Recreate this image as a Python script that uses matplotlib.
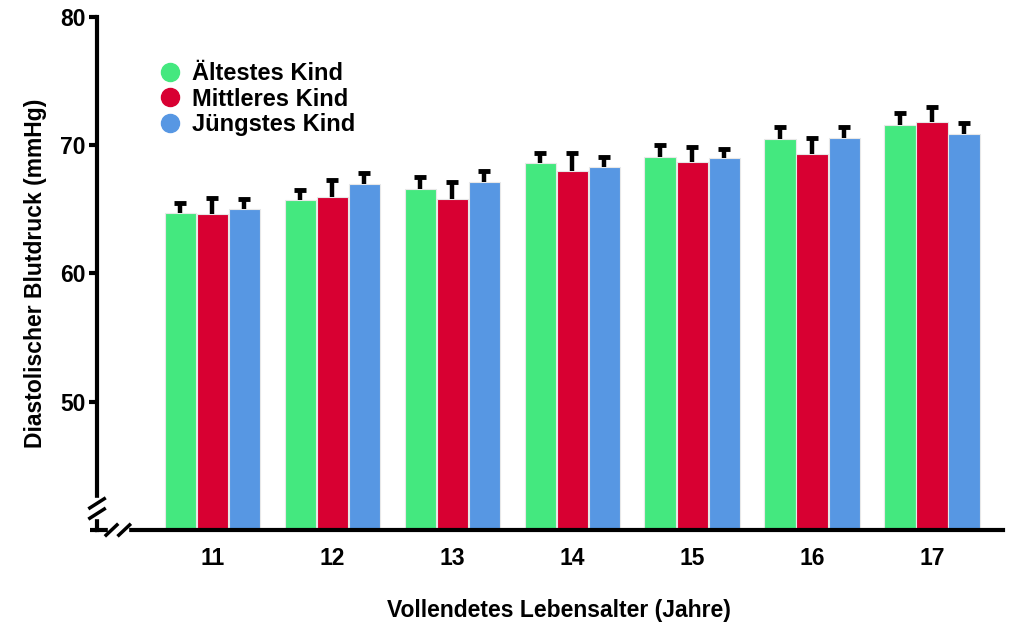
import numpy as np
import matplotlib
matplotlib.use('Agg')
import matplotlib.pyplot as plt
from matplotlib.lines import Line2D

plt.rcParams['font.family'] = ['Liberation Sans', 'DejaVu Sans']
plt.rcParams['font.weight'] = 'bold'

# Data
ages = [11, 12, 13, 14, 15, 16, 17]
series = ['Ältestes Kind', 'Mittleres Kind', 'Jüngstes Kind']
aeltestes = [64.7, 65.7, 66.6, 68.6, 69.1, 70.5, 71.6]
aeltestes_err = [0.8, 0.8, 0.9, 0.8, 0.9, 0.9, 0.9]
mittleres = [64.6, 66.0, 65.8, 68.0, 68.7, 69.3, 71.8]
mittleres_err = [1.3, 1.3, 1.3, 1.4, 1.2, 1.3, 1.2]
juengstes = [65.0, 67.0, 67.1, 68.3, 69.0, 70.6, 70.9]
juengstes_err = [0.8, 0.8, 0.9, 0.8, 0.7, 0.8, 0.8]

colors = ['#44E87F', '#D80032', '#5797E3']
values = [aeltestes, mittleres, juengstes]
errors = [aeltestes_err, mittleres_err, juengstes_err]

fig = plt.figure(figsize=(10.14, 6.24), dpi=100)
ax = fig.add_axes([0.0957, 0.1506, 0.8933, 0.8222])

x = np.array(ages, dtype=float)
w = 0.26
offsets = [-0.267, 0.0, 0.267]
for vals, errs, col, off, name in zip(values, errors, colors, offsets, series):
    vals = np.array(vals)
    tops = vals + np.array(errs)
    ax.bar(x + off, vals, width=w, color=col, edgecolor='#e8e8e8', linewidth=0.8,
           label=name, zorder=2)
    # upper error bars only
    ax.vlines(x + off, vals, tops, color='black', lw=3.2, zorder=3)
    ax.plot(x + off, tops, ls='none', marker='_', ms=8, mew=3.5, color='black', zorder=3)

ax.set_xlim(10.04, 17.59)
ax.set_ylim(40, 80)
ax.set_yticks([50, 60, 70, 80])
ax.set_xticks(ages)
ax.tick_params(axis='y', direction='out', length=6, width=3, labelsize=16.5, pad=2)
ax.tick_params(axis='x', length=0, labelsize=16.5, pad=12)
for lab in ax.get_xticklabels() + ax.get_yticklabels():
    lab.set_fontweight('bold')

for s in ['top', 'right']:
    ax.spines[s].set_visible(False)
for s in ['left', 'bottom']:
    ax.spines[s].set_linewidth(3)

ax.set_xlabel('Vollendetes Lebensalter (Jahre)', fontsize=16.5, fontweight='bold', labelpad=21)
ax.xaxis.label.set_x(0.51)
ax.set_ylabel('Diastolischer Blutdruck (mmHg)', fontsize=16.5, fontweight='bold', labelpad=10)

# axis break marks
ax.add_patch(plt.Rectangle((-0.01, 0.023), 0.02, 0.039, transform=ax.transAxes,
                           color='white', clip_on=False, zorder=5))
ax.add_patch(plt.Rectangle((0.012, -0.012), 0.022, 0.024, transform=ax.transAxes,
                           color='white', clip_on=False, zorder=5))
ax.plot([-0.008, 0.0], [0, 0], transform=ax.transAxes, color='black', lw=3,
        clip_on=False, zorder=6, solid_capstyle='butt')
for dy in [0.032, 0.052]:
    ax.plot([-0.008, 0.008], [dy - 0.009, dy + 0.009], transform=ax.transAxes,
            color='black', lw=2.5, clip_on=False, zorder=6)
for dx in [0.016, 0.030]:
    ax.plot([dx - 0.006, dx + 0.006], [-0.01, 0.01], transform=ax.transAxes,
            color='black', lw=2.5, clip_on=False, zorder=6)

handles = [Line2D([0], [0], marker='o', color='none', markerfacecolor=c,
                  markeredgecolor=c, markersize=13) for c in colors]
ax.legend(handles, series, loc='upper left', bbox_to_anchor=(0.047, 0.953), frameon=False,
          handlelength=0.8, handletextpad=0.5, labelspacing=0.1,
          prop={'weight': 'bold', 'size': 17})

plt.savefig('out.png', dpi=100)
